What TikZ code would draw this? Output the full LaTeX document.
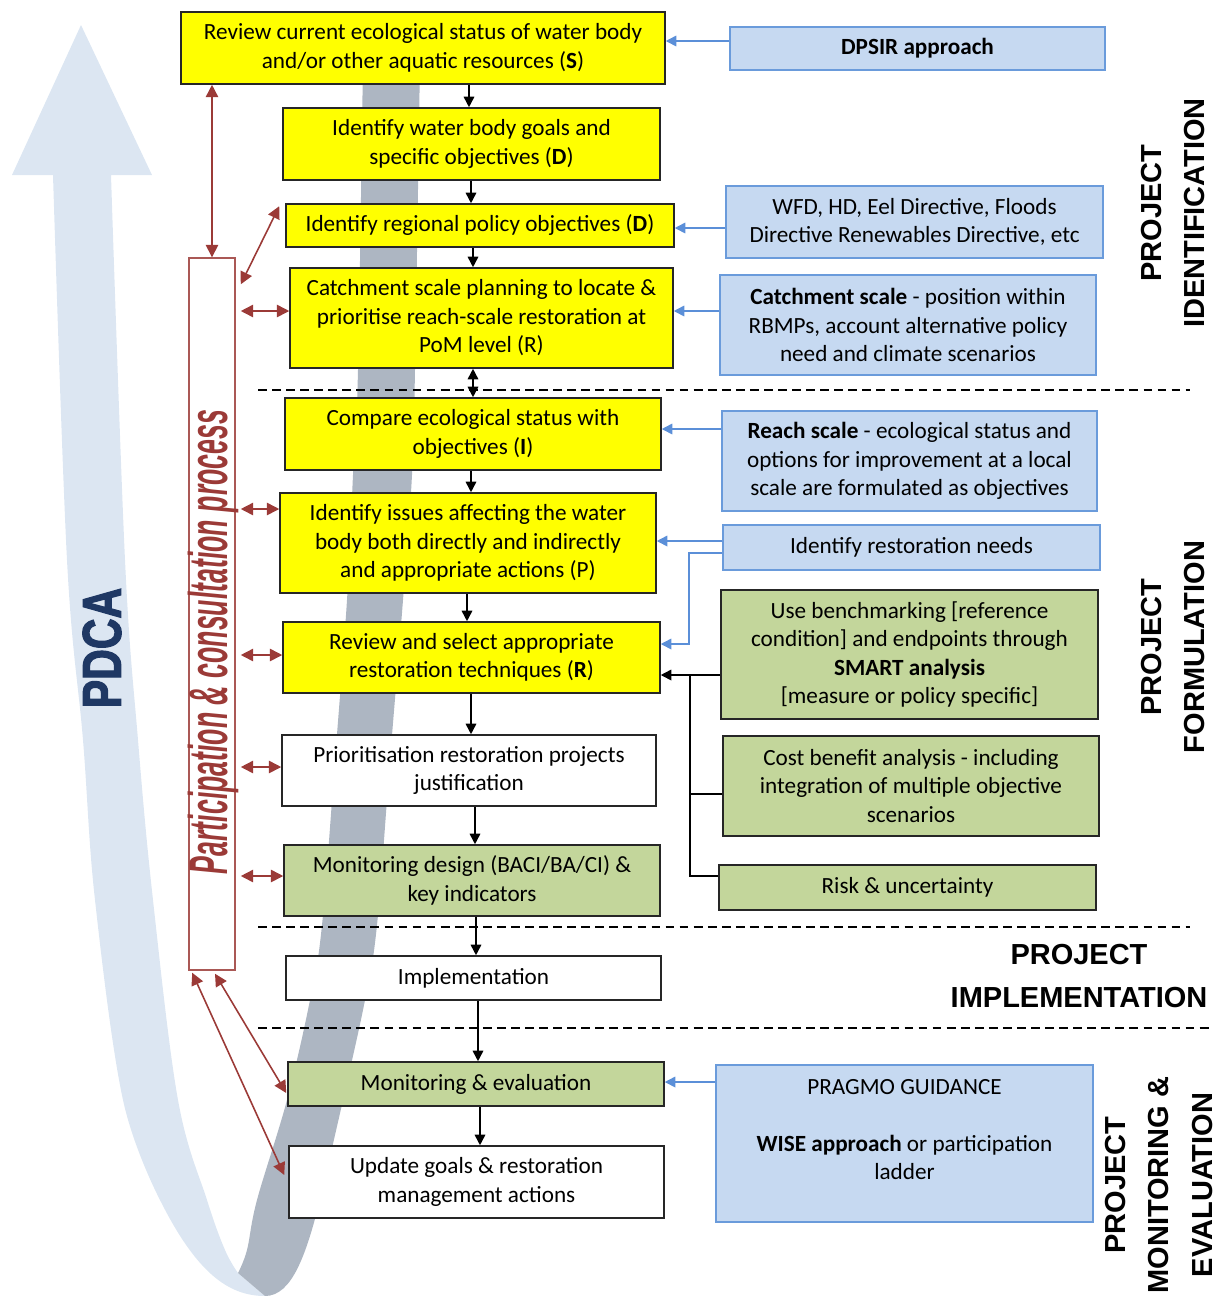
\documentclass[tikz,border=0pt]{standalone}
\usepackage{fontspec}
\setmainfont{Carlito}
\newfontfamily\headfont{Liberation Sans}
\newfontfamily\pdcafont[FakeBold=2.5]{Liberation Sans Bold}
\usetikzlibrary{arrows.meta,calc}
\definecolor{boxyellow}{HTML}{FFFF00}
\definecolor{boxgreen}{HTML}{C3D69B}
\definecolor{boxblue}{HTML}{C6D9F1}
\definecolor{edgeblue}{HTML}{6A9BDB}
\definecolor{arrowblue}{HTML}{5B8FD8}
\definecolor{partred}{HTML}{9B3A37}
\definecolor{pdcalight}{HTML}{DCE6F2}
\definecolor{pdcagray}{HTML}{ADB6C2}
\definecolor{pdcanavy}{HTML}{1F3864}
\tikzstyle{ybox}=[rectangle, draw=black!85, fill=boxyellow, line width=0.9pt,
                  inner sep=2pt, align=center, font=\fontsize{13.2}{16.2}\selectfont]
\tikzstyle{gbox}=[ybox, fill=boxgreen]
\tikzstyle{wbox}=[ybox, fill=white]
\tikzstyle{bbox}=[ybox, draw=edgeblue, fill=boxblue]
\tikzstyle{partbox}=[rectangle, draw=partred!85, fill=white, line width=0.9pt,
                  minimum width=0.92cm, minimum height=14.24cm]
\tikzstyle{phase}=[align=center, font=\headfont\bfseries\fontsize{16.5}{24.5}\selectfont]
\tikzstyle{barrow}=[-{Triangle[length=6pt,width=6pt]}, line width=0.9pt, black]
\tikzstyle{bdarrow}=[{Triangle[length=6pt,width=6pt]}-{Triangle[length=6pt,width=6pt]}, line width=0.9pt, black]
\tikzstyle{blarrow}=[-{Triangle[length=6pt,width=6pt]}, line width=0.9pt, arrowblue]
\tikzstyle{rarrow}=[{Triangle[length=7pt,width=7pt]}-{Triangle[length=7pt,width=7pt]}, line width=0.9pt, partred]
\tikzstyle{pline}=[-, line width=0.9pt, black]
\tikzstyle{sepline}=[dashed, line width=0.6pt, dash pattern=on 5pt off 3pt]

\begin{document}
\begin{tikzpicture}[x=0.02cm, y=-0.02cm]
\useasboundingbox (0,0) rectangle (1226,1296);

% PDCA cycle band
\fill[pdcalight] (53,175) -- (12,175) -- (81,25) -- (152,175) -- (111,175)
  -- plot[smooth, tension=0.6] coordinates {(111,175) (125,560) (138,740) (153,900) (178,1100) (207,1200) (225,1250) (238,1273)}
  -- (265,1296) .. controls (228,1296) and (196,1272) .. (160,1200)
  -- plot[smooth, tension=0.6] coordinates {(160,1200) (123,1100) (95,900) (83,740) (67,560) (53,175)}
  -- cycle;
\fill[pdcagray] plot[smooth, tension=0.6] coordinates {(238,1273) (247,1250) (257,1200) (287,1100) (310,1000) (322,925) (335,760) (347,600) (353,475) (358,370) (363,60)}
  -- (420,60)
  -- plot[smooth, tension=0.6] coordinates {(420,60) (415,370) (412,475) (403,600) (390,760) (377,925) (365,1000) (343,1100) (320,1200)}
  .. controls (306,1255) and (292,1296) .. (265,1296) -- cycle;
\node (pdca) [rotate=90, text=pdcanavy] at (102,648) {\pdcafont\fontsize{31}{31}\selectfont\scalebox{0.78}[1]{PDCA}};

\draw[sepline] (258,390) -- (1190,390);
\draw[sepline] (258,927) -- (1190,927);
\draw[sepline] (258,1028) -- (1212,1028);

% main column
\node (review) [ybox, minimum width=9.68cm, minimum height=1.44cm] at (423,48) {Review current ecological status of water body\\and/or other aquatic resources (\textbf{S})};
\node (goals) [ybox, minimum width=7.54cm, minimum height=1.44cm] at (471.5,144) {Identify water body goals and\\specific objectives (\textbf{D})};
\node (regional) [ybox, minimum width=7.76cm, minimum height=0.86cm] at (480,225.5) {Identify regional policy objectives (\textbf{D})};
\node (catchment) [ybox, minimum width=7.66cm, minimum height=2cm] at (481.5,318) {Catchment scale planning to locate \&\\prioritise reach-scale restoration at\\PoM level (R)};
\node (compare) [ybox, minimum width=7.52cm, minimum height=1.44cm] at (473,434) {Compare ecological status with\\objectives (\textbf{I})};
\node (issues) [ybox, minimum width=7.52cm, minimum height=2cm] at (468,543) {Identify issues affecting the water\\body both directly and indirectly\\and appropriate actions (P)};
\node (select) [ybox, minimum width=7.54cm, minimum height=1.42cm] at (471.5,657.5) {Review and select appropriate\\restoration techniques (\textbf{R})};
\node (prior) [wbox, minimum width=7.48cm, minimum height=1.42cm] at (469,770.5) {Prioritisation restoration projects\\justification};
\node (mondesign) [gbox, minimum width=7.52cm, minimum height=1.42cm] at (472,880.5) {Monitoring design (BACI/BA/CI) \&\\key indicators};
\node (impl) [wbox, minimum width=7.5cm, minimum height=0.88cm] at (473.5,978) {Implementation};
\node (moneval) [gbox, minimum width=7.52cm, minimum height=0.88cm] at (476,1084) {Monitoring \& evaluation};
\node (update) [wbox, minimum width=7.5cm, minimum height=1.44cm] at (476.5,1182) {Update goals \& restoration\\management actions};

% right column
\node (dpsir) [bbox, minimum width=7.5cm, minimum height=0.86cm] at (917.5,48.5) {\textbf{DPSIR approach}};
\node (wfd) [bbox, minimum width=7.54cm, minimum height=1.44cm] at (914.5,222) {WFD, HD, Eel Directive, Floods\\Directive Renewables Directive, etc};
\node (cscale) [bbox, minimum width=7.52cm, minimum height=2cm] at (908,325) {\textbf{Catchment scale} - position within\\RBMPs, account alternative policy\\need and climate scenarios};
\node (rscale) [bbox, minimum width=7.5cm, minimum height=2cm] at (909.5,461) {\textbf{Reach scale} - ecological status and\\options for improvement at a local\\scale are formulated as objectives};
\node (needs) [bbox, minimum width=7.54cm, minimum height=0.9cm] at (911.5,547.5) {Identify restoration needs};
\node (bench) [gbox, minimum width=7.54cm, minimum height=2.58cm] at (909.5,654.5) {Use benchmarking [reference\\condition] and endpoints through\\\textbf{SMART analysis}\\{}[measure or policy specific]};
\node (cba) [gbox, minimum width=7.52cm, minimum height=2cm] at (911,786) {Cost benefit analysis - including\\integration of multiple objective\\scenarios};
\node (risk) [gbox, minimum width=7.54cm, minimum height=0.9cm] at (907.5,887.5) {Risk \& uncertainty};
\node (pragmo) [bbox, minimum width=7.54cm, minimum height=3.14cm] at (904.5,1143.5) {PRAGMO GUIDANCE\\~\\\textbf{WISE approach} or participation\\ladder\\~};

% participation
\node (part) [partbox] at (212,614) {};
\node (parttext) [rotate=90, text=partred] at (213,642) {\headfont\bfseries\itshape\fontsize{31}{31}\selectfont\scalebox{0.49}[1]{Participation \& consultation process}};

% phases
\node (ident) [phase, rotate=90] at (1173,213) {PROJECT\\IDENTIFICATION};
\node (formul) [phase, rotate=90] at (1173,647) {PROJECT\\FORMULATION};
\node (implem) [phase] at (1079,976) {PROJECT\\IMPLEMENTATION};
\node (moneva) [phase, rotate=90] at (1159,1185) {PROJECT\\MONITORING \&\\EVALUATION};

% flow down the main column
\foreach \a/\b/\xx in {review/goals/469, goals/regional/471, regional/catchment/473, compare/issues/471,
    issues/select/467, select/prior/471, prior/mondesign/475, mondesign/impl/476, impl/moneval/478, moneval/update/480}
  \draw[barrow] (\a.south -| \xx,0) -- (\b.north -| \xx,0);
\draw[bdarrow] (catchment.south -| 473,0) -- (compare.north -| 473,0);

% inputs from the right
\draw[blarrow] (dpsir.west |- 0,41) -- (review.east |- 0,41);
\draw[blarrow] (wfd.west |- 0,228) -- (regional.east |- 0,228);
\draw[blarrow] (cscale.west |- 0,311) -- (catchment.east |- 0,311);
\draw[blarrow] (rscale.west |- 0,429) -- (compare.east |- 0,429);
\draw[blarrow] (needs.west |- 0,541) -- (issues.east |- 0,541);
\draw[blarrow] (needs.west |- 0,553) -- ++(-33,0) |- (select.east |- 0,644);
\draw[blarrow] (pragmo.west |- 0,1082) -- (moneval.east |- 0,1082);
\draw[barrow] (bench.west |- 0,675) -- (select.east |- 0,675);
\draw[pline] (cba.west |- 0,794) -| (690,675);
\draw[pline] (risk.west |- 0,876) -| (690,794);

% participation links
\draw[rarrow] (part.north) -- (part.north |- review.south);
\draw[rarrow] ($(part.north east)+(5,27)$) -- ($(regional.north west)+(-6,3)$);
\foreach \nd/\yy in {catchment/311, issues/509, select/655, prior/767, mondesign/876}
  \draw[rarrow, shorten <=1mm] (part.east |- 0,\yy) -- (\nd.west |- 0,\yy);
\draw[rarrow] ($(part.south west)+(4,2)$) -- ($(update.west)+(-4,-7)$);
\draw[rarrow] ($(part.south)+(3,3)$) -- ($(moneval.west)+(-1,9)$);

\end{tikzpicture}
\end{document}
